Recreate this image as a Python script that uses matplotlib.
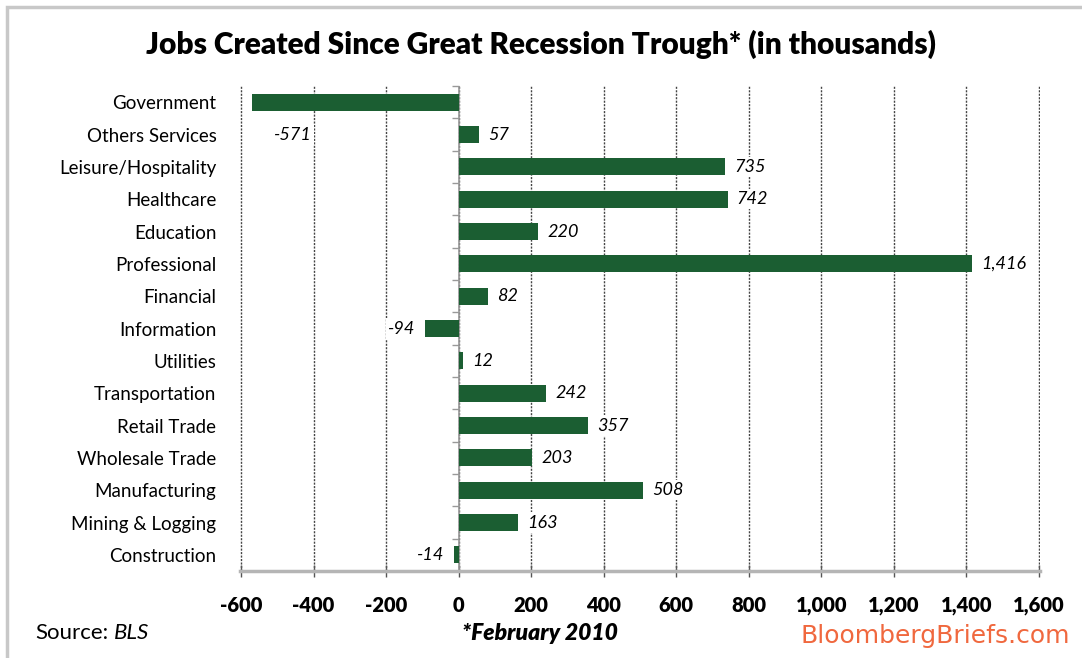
import numpy as np
import matplotlib.pyplot as plt
from matplotlib.patches import Rectangle
from matplotlib.ticker import FuncFormatter

# Данные
categories = ['Government', 'Others Services', 'Leisure/Hospitality', 'Healthcare',
              'Education', 'Professional', 'Financial', 'Information', 'Utilities',
              'Transportation', 'Retail Trade', 'Wholesale Trade', 'Manufacturing',
              'Mining & Logging', 'Construction']
jobs = [-571, 57, 735, 742, 220, 1416, 82, -94, 12, 242, 357, 203, 508, 163, -14]
x_ticks = [-600, -400, -200, 0, 200, 400, 600, 800, 1000, 1200, 1400, 1600]

bar_color = '#1b5e32'
font = 'Lato'

fig = plt.figure(figsize=(10.82, 6.58), dpi=100)
ax = fig.add_axes([240 / 1082, 1 - 571 / 658, 800 / 1082, 485 / 658])

# рамка вокруг картинки
fig.patches.append(Rectangle((7 / 1082, -0.05), 1.2, 1 - 7 / 658 + 0.05,
                             transform=fig.transFigure, fill=False,
                             edgecolor='#c8c8c8', linewidth=2.5))

y = np.arange(len(categories))
ax.barh(y, jobs, height=0.52, color=bar_color, zorder=3)

ax.set_xlim(-603, 1603)
ax.set_ylim(len(categories) - 0.5, -0.5)
ax.set_xticks(x_ticks)
ax.xaxis.set_major_formatter(FuncFormatter(lambda v, p: f'{int(v):,}'))
ax.set_yticks(y)
ax.set_yticklabels(categories, fontsize=13.5, family=font)
ax.tick_params(axis='y', length=0, pad=17)
ax.tick_params(axis='x', direction='inout', length=8, width=1, color='#555555', pad=14)
for lab in ax.get_xticklabels():
    lab.set_fontfamily(font)
    lab.set_fontweight('heavy')
    lab.set_fontsize(14.5)

for s in ['top', 'right', 'left']:
    ax.spines[s].set_visible(False)
ax.spines['bottom'].set_color('#b5b5b5')
ax.spines['bottom'].set_linewidth(2.5)

ax.grid(axis='x', linestyle=(0, (1.5, 1)), color='#444444', linewidth=1.0, zorder=0)
ax.axvline(0, color='#999999', linewidth=1.2, zorder=2)

# засечки на нулевой оси
sec = ax.secondary_yaxis(603 / 2206)
sec.set_yticks(np.arange(len(categories) + 1) - 0.5)
sec.set_yticklabels([])
sec.tick_params(length=5, color='#999999', width=1)
sec.spines['left'].set_visible(False)

# подписи значений
lab_kw = dict(va='center', style='italic', fontsize=13, family=font, zorder=4,
              bbox=dict(facecolor='white', edgecolor='none', pad=1.5))
for i, v in enumerate(jobs):
    txt = f'{v:,}'
    if i == 0:
        ax.text(-456, i + 1, txt, ha='center', **lab_kw)
    elif v < 0:
        ax.text(v - 25, i, txt, ha='right', **lab_kw)
    else:
        ax.text(v + 25, i, txt, ha='left', **lab_kw)

fig.text(0.5, 1 - 44 / 658, 'Jobs Created Since Great Recession Trough* (in thousands)',
         ha='center', va='center', fontsize=21.5, fontweight='heavy', family=font)
src = fig.text(35 / 1082, 1 - 639 / 658, 'Source:', ha='left', va='baseline',
               fontsize=16, family=font)
fig.add_artist(plt.Annotation('BLS', xy=(1, 0), xycoords=src, xytext=(4, 0),
                              textcoords='offset points', va='bottom',
                              fontsize=16, family=font, style='italic'))
fig.text(540 / 1082, 1 - 633 / 658, '*February 2010', ha='center', va='center',
         fontsize=16.5, family=font, style='italic', fontweight='heavy')
fig.text(1070 / 1082, 1 - 636 / 658, 'BloombergBriefs.com', ha='right', va='center',
         fontsize=18, family='DejaVu Sans', color='#f0683e')

fig.savefig('out.png', dpi=100)
